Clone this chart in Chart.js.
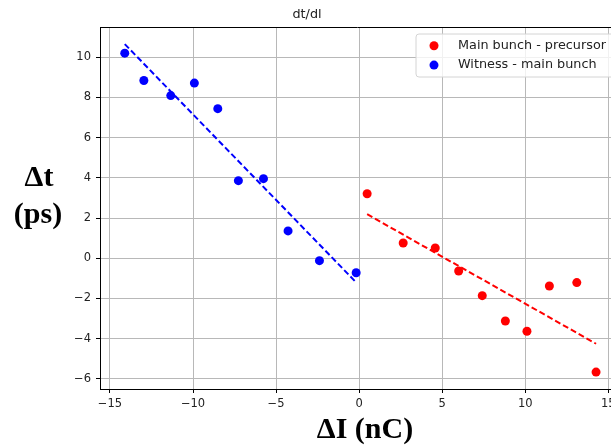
<!DOCTYPE html>
<html>
<head>
<meta charset="utf-8">
<script src="https://cdn.jsdelivr.net/npm/chart.js@4.4.1/dist/chart.umd.min.js"></script>
<style>
html, body { margin: 0; padding: 0; background: #fff; overflow: hidden; }
#wrap { position: relative; width: 625px; height: 446px; }
</style>
</head>
<body>
<div id="wrap"><canvas id="chart"></canvas></div>
<script>
// measured points: delta I (nC) against delta t (ps)
let precursorX = [0.48, 2.65, 4.58, 5.99, 7.41, 8.80, 10.10, 11.45, 13.10, 14.26];
let precursorY = [3.21, 0.76, 0.51, -0.63, -1.86, -3.12, -3.63, -1.38, -1.21, -5.66];
let witnessX = [-14.11, -12.96, -11.34, -9.92, -8.51, -7.27, -5.76, -4.28, -2.39, -0.18];
let witnessY = [10.20, 8.84, 8.09, 8.71, 7.44, 3.86, 3.96, 1.36, -0.12, -0.72];

// end points of the linear fits
let precursorFitX = [0.48, 14.26];
let precursorFitY = [2.19, -4.25];
let witnessFitX = [-14.11, -0.18];
let witnessFitY = [10.65, -1.20];

let xTicks = [-15, -10, -5, 0, 5, 10, 15];
let yTicks = [-6, -4, -2, 0, 2, 4, 6, 8, 10];

let seriesNames = ["Main bunch - precursor", "Witness - main bunch"];
let seriesColors = ["#ff0000", "#0000ff"];

function toPoints(xs, ys) {
  return xs.map((x, i) => ({ x: x, y: ys[i] }));
}

function minusSign(v) {
  return v < 0 ? "\u2212" + Math.abs(v) : String(v);
}

const tickFont = { family: "DejaVu Sans", size: 11.5 };
const dotRadius = 4.5;

// title, big axis labels, top spine and the boxed legend
const extras = {
  id: "extras",
  afterDraw(chart) {
    const ctx = chart.ctx;
    const area = chart.chartArea;
    ctx.save();

    // top spine
    ctx.strokeStyle = "#000";
    ctx.lineWidth = 1;
    ctx.beginPath();
    ctx.moveTo(area.left, area.top + 0.5);
    ctx.lineTo(area.right, area.top + 0.5);
    ctx.stroke();

    ctx.fillStyle = "#222";
    ctx.textAlign = "center";
    ctx.textBaseline = "middle";
    ctx.font = "12.8px 'DejaVu Sans'";
    ctx.fillText("dt/dl", 307, 15);

    ctx.fillStyle = "#000";
    ctx.font = "bold 30px 'Liberation Serif'";
    ctx.fillText("\u0394t", 39, 178);
    ctx.fillText("(ps)", 38, 215);
    ctx.fillText("\u0394I (nC)", 365, 430);

    // legend
    const lx = 416, ly = 34, lw = 215, lh = 43, r = 3;
    ctx.beginPath();
    ctx.moveTo(lx + r, ly);
    ctx.lineTo(lx + lw - r, ly);
    ctx.arcTo(lx + lw, ly, lx + lw, ly + r, r);
    ctx.lineTo(lx + lw, ly + lh - r);
    ctx.arcTo(lx + lw, ly + lh, lx + lw - r, ly + lh, r);
    ctx.lineTo(lx + r, ly + lh);
    ctx.arcTo(lx, ly + lh, lx, ly + lh - r, r);
    ctx.lineTo(lx, ly + r);
    ctx.arcTo(lx, ly, lx + r, ly, r);
    ctx.closePath();
    ctx.fillStyle = "rgba(255,255,255,0.8)";
    ctx.fill();
    ctx.strokeStyle = "#d4d4d4";
    ctx.stroke();

    ctx.font = "12.8px 'DejaVu Sans'";
    ctx.textAlign = "left";
    for (let i = 0; i < seriesNames.length; i++) {
      const cy = 45.7 + i * 19.4;
      ctx.fillStyle = seriesColors[i];
      ctx.beginPath();
      ctx.arc(434, cy, dotRadius, 0, Math.PI * 2);
      ctx.fill();
      ctx.fillStyle = "#222";
      ctx.fillText(seriesNames[i], 458, cy);
    }
    ctx.restore();
  }
};

new Chart(document.getElementById("chart"), {
  type: "scatter",
  data: {
    datasets: [
      {
        label: seriesNames[0],
        data: toPoints(precursorX, precursorY),
        backgroundColor: seriesColors[0],
        pointRadius: dotRadius,
        pointHoverRadius: dotRadius,
        pointBorderWidth: 0
      },
      {
        label: seriesNames[1],
        data: toPoints(witnessX, witnessY),
        backgroundColor: seriesColors[1],
        pointRadius: dotRadius,
        pointHoverRadius: dotRadius,
        pointBorderWidth: 0
      },
      {
        label: "precursor fit",
        data: toPoints(precursorFitX, precursorFitY),
        showLine: true,
        borderColor: seriesColors[0],
        borderWidth: 2,
        borderDash: [6, 3],
        pointRadius: 0
      },
      {
        label: "witness fit",
        data: toPoints(witnessFitX, witnessFitY),
        showLine: true,
        borderColor: seriesColors[1],
        borderWidth: 2,
        borderDash: [6, 3],
        pointRadius: 0
      }
    ]
  },
  options: {
    responsive: true,
    maintainAspectRatio: false,
    devicePixelRatio: 1,
    animation: false,
    layout: { padding: { top: 27, right: 10, left: 0, bottom: 0 } },
    plugins: {
      legend: { display: false },
      title: { display: false },
      tooltip: { enabled: false }
    },
    scales: {
      x: {
        type: "linear",
        min: -15.6,
        max: 15.4,
        afterBuildTicks: s => { s.ticks = xTicks.map(v => ({ value: v })); },
        afterFit: s => { s.height = 57; },
        ticks: {
          font: tickFont,
          color: "#222",
          padding: 4,
          maxRotation: 0,
          callback: v => minusSign(v)
        },
        grid: { color: "#b8b8b8", lineWidth: 1, tickLength: 4, tickColor: "#000" },
        border: { color: "#000", width: 1 }
      },
      y: {
        type: "linear",
        min: -6.5,
        max: 11.5,
        afterBuildTicks: s => { s.ticks = yTicks.map(v => ({ value: v })); },
        afterFit: s => { s.width = 100; },
        ticks: {
          font: tickFont,
          color: "#222",
          padding: 5,
          callback: v => minusSign(v)
        },
        grid: { color: "#b8b8b8", lineWidth: 1, tickLength: 4, tickColor: "#000" },
        border: { color: "#000", width: 1 }
      }
    }
  },
  plugins: [extras]
});
</script>
</body>
</html>
